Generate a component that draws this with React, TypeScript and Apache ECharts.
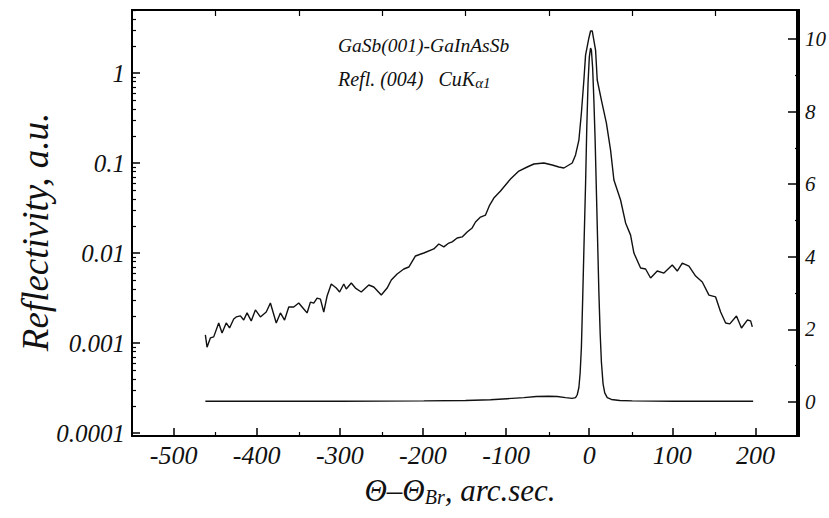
import React, { useEffect, useRef } from 'react';
import * as echarts from 'echarts';

// Upper (logarithmic, left axis) curve: angle in arc sec, reflectivity in a.u.
const upperAngle = [
  -462, -460, -456, -452, -446, -442, -437, -433, -428, -425, -420, -416, -412, -407, -402, -396,
  -389, -384, -377, -372, -367, -362, -356, -350, -344, -340, -336, -332, -328, -324, -320, -316,
  -311, -305, -301, -296, -293, -287, -282, -275, -266, -260, -251, -244, -239, -232, -224, -218,
  -210, -200, -188, -182, -176, -170, -166, -160, -154, -148, -142, -138, -132, -126, -121, -116,
  -108, -100, -96, -86, -76, -68, -56, -46, -38, -32, -26, -22, -18, -14, -11, -8,
  -6, -2, 0, 2, 6, 8, 13, 19, 24, 28, 36, 42, 48, 52, 60, 66,
  72, 80, 88, 98, 104, 110, 118, 126, 134, 142, 150, 156, 162, 167, 175, 181,
  188, 192, 194,
];
const upperReflectivity = [
  0.00123, 0.0009, 0.00114, 0.00117, 0.00167, 0.00129, 0.00167, 0.00147, 0.00185, 0.00195, 0.002, 0.0018, 0.00216, 0.00176, 0.00233, 0.00195,
  0.00221, 0.00278, 0.00167, 0.00216, 0.0018, 0.00251, 0.00251, 0.00278, 0.00239, 0.00216, 0.00285, 0.00278, 0.00316, 0.00308, 0.00221, 0.00333,
  0.00453, 0.00408, 0.00369, 0.00453, 0.00398, 0.00464, 0.00408, 0.00369, 0.00441, 0.00419, 0.00341, 0.00408, 0.00501, 0.00585, 0.00664, 0.00699,
  0.00927, 0.01, 0.0111, 0.0126, 0.0117, 0.0129, 0.0133, 0.0147, 0.0151, 0.0171, 0.019, 0.0221, 0.0251, 0.0264, 0.0341, 0.0408,
  0.0489, 0.06, 0.0664, 0.0815, 0.0903, 0.0975, 0.1, 0.095, 0.0903, 0.088, 0.095, 0.1, 0.123, 0.18, 0.359, 0.836,
  1.58, 2.45, 2.93, 2.93, 1.8, 0.836, 0.5, 0.278, 0.139, 0.0648, 0.0388, 0.0216, 0.0158, 0.01, 0.00681, 0.00664,
  0.00528, 0.00631, 0.00599, 0.00736, 0.00631, 0.00774, 0.00717, 0.00555, 0.00476, 0.00341, 0.00325, 0.00221, 0.00167, 0.00163, 0.002, 0.00147,
  0.0018, 0.00176, 0.00151,
];

// Lower (linear, right axis) curve
const peakAngle = [
  -462, -400, -300, -200, -150, -120, -100, -80, -65, -50, -40, -30, -22, -18, -16, -14,
  -12.5, -11, -9.5, -8, -6, -4.5, -3, -1.5, 0, 1, 2.5, 4, 5.5, 7, 8.5, 10,
  11.5, 13, 15, 17, 20, 25, 35, 50, 100, 150, 195,
];
const peakIntensity = [
  0.02, 0.02, 0.02, 0.03, 0.04, 0.06, 0.09, 0.12, 0.15, 0.16, 0.15, 0.12, 0.1, 0.12, 0.2, 0.4,
  0.8, 1.5, 2.8, 4.2, 6.0, 7.6, 8.8, 9.5, 9.75, 9.7, 9.2, 8.3, 7.2, 5.8, 4.4, 3.0,
  1.9, 1.1, 0.5, 0.25, 0.12, 0.07, 0.04, 0.03, 0.02, 0.02, 0.02,
];

// Axis ticks and labels
const xLabelValues = [-500, -400, -300, -200, -100, 0, 100, 200];
const xMinorTicks = [-450, -350, -250, -150, -50, 50, 150];
const topTicks = [-450, -350, -250, -150, -50, 50, 150];
const leftDecades = [-4, -3, -2, -1, 0];
const leftLabelText = ['0.0001', '0.001', '0.01', '0.1', '1'];
const rightLabelValues = [0, 2, 4, 6, 8, 10];
const rightMinorTicks = [1, 3, 5, 7, 9];

const LOG_MIN = -4.033;
const LOG_MAX = 0.7;
const LIN_MIN = -0.937;
const LIN_MAX = 10.8;
const X_MIN = -550;
const X_MAX = 250;

const FONT = 'Liberation Serif, Times New Roman, serif';

export default function App() {
  const ref = useRef<HTMLDivElement>(null);

  useEffect(() => {
    if (!ref.current) return;
    const chart = echarts.init(ref.current, null, { renderer: 'svg' });

    const logMinor: number[] = [];
    for (let n = -5; n <= 0; n++) {
      for (let k = 2; k <= 9; k++) {
        const v = Math.log10(k) + n;
        if (v > LOG_MIN && v < LOG_MAX) logMinor.push(v);
      }
    }

    const axisLine = { show: true, onZero: false, lineStyle: { color: '#000', width: 2 } };
    const labelFont = { fontFamily: FONT, fontStyle: 'italic' as const, color: '#111' };

    const option: any = {
      animation: false,
      backgroundColor: '#fff',
      grid: [
        { left: 132, right: 30, top: 10, bottom: 82, containLabel: false },
        { left: 132, right: 30, top: 10, bottom: 82, containLabel: false },
      ],
      xAxis: [
        {
          gridIndex: 0, type: 'value', position: 'bottom', min: X_MIN, max: X_MAX,
          axisLine,
          axisTick: { show: true, inside: true, length: 4, customValues: xMinorTicks, lineStyle: { color: '#000', width: 1.2 } },
          axisLabel: { show: false },
          splitLine: { show: false },
        },
        {
          gridIndex: 0, type: 'value', position: 'top', min: X_MIN, max: X_MAX,
          axisLine,
          axisTick: { show: true, inside: true, length: 6, customValues: topTicks, lineStyle: { color: '#000', width: 1.2 } },
          axisLabel: { show: false },
          splitLine: { show: false },
        },
        {
          gridIndex: 1, type: 'value', position: 'bottom', min: X_MIN, max: X_MAX,
          axisLine,
          axisTick: { show: true, inside: true, length: 8, customValues: xLabelValues, lineStyle: { color: '#000', width: 1.5 } },
          axisLabel: { ...labelFont, fontSize: 26, margin: 6, customValues: xLabelValues },
          splitLine: { show: false },
        },
      ],
      yAxis: [
        {
          gridIndex: 0, type: 'value', position: 'left', min: LOG_MIN, max: LOG_MAX,
          axisLine,
          axisTick: { show: true, inside: true, length: 4, customValues: logMinor, lineStyle: { color: '#000', width: 1.2 } },
          axisLabel: { show: false },
          splitLine: { show: false },
        },
        {
          gridIndex: 0, type: 'value', position: 'right', min: LIN_MIN, max: LIN_MAX,
          axisLine,
          axisTick: { show: true, inside: true, length: 4, customValues: rightMinorTicks, lineStyle: { color: '#000', width: 1.2 } },
          axisLabel: { show: false },
          splitLine: { show: false },
        },
        {
          gridIndex: 1, type: 'value', position: 'left', min: LOG_MIN, max: LOG_MAX,
          axisLine,
          axisTick: { show: true, inside: true, length: 8, customValues: leftDecades, lineStyle: { color: '#000', width: 1.5 } },
          axisLabel: {
            ...labelFont, fontSize: 25, margin: 7, customValues: leftDecades,
            formatter: (v: number) => leftLabelText[Math.round(v) + 4] ?? '',
          },
          splitLine: { show: false },
        },
        {
          gridIndex: 1, type: 'value', position: 'right', min: LIN_MIN, max: LIN_MAX,
          axisLine,
          axisTick: { show: true, inside: true, length: 9, customValues: rightLabelValues, lineStyle: { color: '#000', width: 1.5 } },
          axisLabel: { ...labelFont, fontSize: 21, margin: 8, customValues: rightLabelValues },
          splitLine: { show: false },
        },
      ],
      series: [
        {
          type: 'line', xAxisIndex: 0, yAxisIndex: 0,
          data: upperAngle.map((a, i) => [a, Math.log10(upperReflectivity[i])]),
          symbol: 'none', showSymbol: false,
          lineStyle: { color: '#111', width: 1.4 },
        },
        {
          type: 'line', xAxisIndex: 0, yAxisIndex: 1,
          data: peakAngle.map((a, i) => [a, peakIntensity[i]]),
          symbol: 'none', showSymbol: false,
          lineStyle: { color: '#111', width: 1.4 },
        },
      ],
      graphic: [
        {
          type: 'text', x: 35, y: 232, rotation: Math.PI / 2,
          style: {
            text: 'Reflectivity, a.u.', fill: '#111',
            fontFamily: FONT, fontStyle: 'italic', fontSize: 37, align: 'center', verticalAlign: 'middle',
          },
        },
        {
          type: 'text', x: 460, y: 490,
          style: {
            text: '{m|Θ–Θ}{s|Br}{m|, arc.sec.}', align: 'center', verticalAlign: 'middle',
            rich: {
              m: { fontFamily: FONT, fontStyle: 'italic', fontSize: 31, lineHeight: 34, fill: '#111', verticalAlign: 'middle' },
              s: { fontFamily: FONT, fontStyle: 'italic', fontSize: 20, lineHeight: 14, fill: '#111', verticalAlign: 'bottom' },
            },
          },
        },
        {
          type: 'text', x: 338, y: 45,
          style: {
            text: 'GaSb(001)-GaInAsSb', fill: '#111',
            fontFamily: FONT, fontStyle: 'italic', fontSize: 19.5, align: 'left', verticalAlign: 'middle',
          },
        },
        {
          type: 'text', x: 338, y: 79,
          style: {
            text: '{m|Refl. (004)   CuK}{s|α1}', align: 'left', verticalAlign: 'middle',
            rich: {
              m: { fontFamily: FONT, fontStyle: 'italic', fontSize: 20, lineHeight: 22, fill: '#111', verticalAlign: 'middle' },
              s: { fontFamily: FONT, fontStyle: 'italic', fontSize: 15, lineHeight: 8, fill: '#111', verticalAlign: 'bottom' },
            },
          },
        },
      ],
    };

    chart.setOption(option);
    return () => chart.dispose();
  }, []);

  return (
    <div
      ref={ref}
      style={{ position: 'fixed', left: 0, top: 0, width: 829, height: 518, background: '#fff' }}
    />
  );
}
